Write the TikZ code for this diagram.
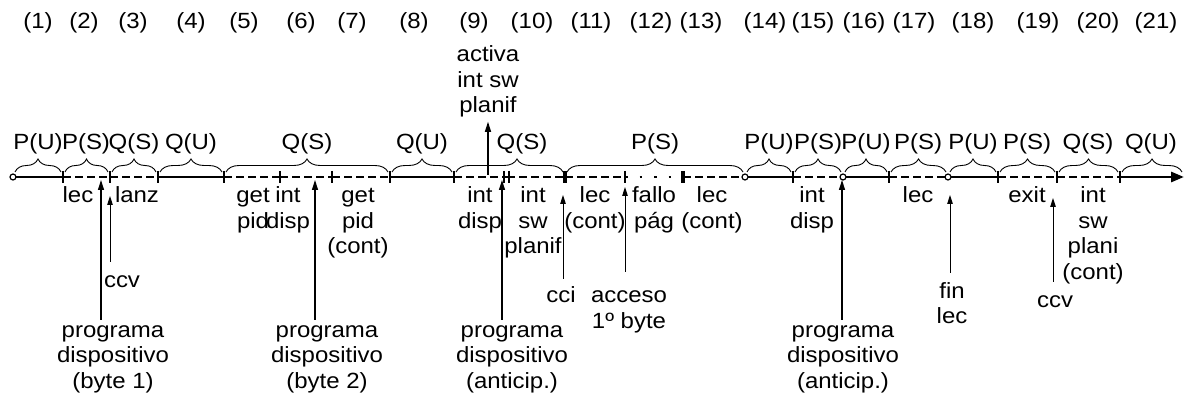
\documentclass[tikz,border=0pt]{standalone}
\usepackage{fontspec}
\setmainfont{Liberation Sans}[FakeStretch=1.09]
\usetikzlibrary{arrows.meta,decorations.pathreplacing,calc}
\newcommand{\lblfont}{\fontsize{22}{25.5}\selectfont}
\begin{document}
\begin{tikzpicture}[x=1pt,y=-1pt,
  seg/.style={line width=2.8pt},
  dsh/.style={line width=2.8pt, dash pattern=on 8pt off 4pt},
  dts/.style={line width=2.8pt, dash pattern=on 2.5pt off 12pt},
  tk/.style={line width=2pt},
  tkb/.style={line width=3.2pt},
  brc/.style={decorate, decoration={brace, amplitude=13pt}, line width=0.9pt},
  lab/.style={font=\lblfont, inner sep=0pt, align=center, anchor=base},
  upar/.style={-{Triangle[length=10pt,width=6pt]}, line width=1.3pt},
  thinar/.style={-{Triangle[length=9pt,width=5.5pt]}, line width=1pt},
  opencirc/.style={circle, draw, fill=white, line width=1.2pt, inner sep=0pt, minimum size=6pt},
]
\useasboundingbox (0,0) rectangle (1186,403);

% boundaries on the time line
\foreach \x [count=\i from 0] in {13,63,110,158,224,280,332,390,454,507,565,625,683,745,793,843,889,948,998,1057,1120,1184}
  \coordinate (b\i) at (\x,177);

% segments
\foreach \i/\j/\s in {0/1/seg,1/2/dsh,2/3/dsh,3/4/seg,4/5/dsh,5/6/dsh,6/7/dsh,7/8/seg,8/9/dsh,9/10/dsh,10/11/dsh,11/12/dts,12/13/dsh,13/14/seg,14/15/dsh,15/16/seg,16/17/dsh,17/18/seg,18/19/dsh,19/20/dsh}
  \draw[\s] (b\i) -- (b\j);
\draw[seg, -{Triangle[length=13pt,width=10pt]}] (b20) -- (b21);

% ticks
\foreach \i in {1,2,3,4,5,6,7,8,11,14,16,18,19,20}
  \draw[tk] ($(b\i)+(0,-6)$) -- ($(b\i)+(0,6)$);
\draw[tk] ($(b9)+(-3,-6)$) -- ($(b9)+(-3,6)$);
\draw[tk] ($(b9)+(2,-6)$) -- ($(b9)+(2,6)$);
\draw[tkb] ($(b10)+(0,-6)$) -- ($(b10)+(0,6)$);
\draw[tkb] ($(b12)+(0,-6)$) -- ($(b12)+(0,6)$);

% circles
\node[opencirc] (c0) at (b0) {};
\node[opencirc] (c13) at (b13) {};
\node[opencirc] (c15) at (b15) {};
\node[opencirc] (c17) at (b17) {};

% braces
\foreach \i/\j in {0/1,1/2,2/3,3/4,4/7,7/8,13/14,14/15,15/16,16/17,17/18,18/19,19/20,20/21}
  \draw[brc] ($(b\i)+(2,-5)$) -- ($(b\j)+(-2,-5)$);
\draw[brc, decoration={aspect=0.57}] ($(b8)+(2,-5)$) -- ($(b10)+(-2,-5)$);
\draw[brc] ($(b10)+(2,-5)$) -- ($(b13)+(-2,-5)$);

% mode labels
\foreach \x/\t [count=\i] in {38/P(U),86/P(S),134/Q(S),191/Q(U),307/Q(S),422/Q(U),522/Q(S),655/P(S),769/P(U),818/P(S),866/P(U),918/P(S),973/P(U),1027/P(S),1088/Q(S),1151/Q(U)}
  \node[lab] (m\i) at (\x,150) {\t};

% interval numbers
\foreach \x [count=\i] in {38,84,133,191,244,301,352,414,474,532,591,651,701,765,813,864,914,973,1038,1098,1156}
  \node[lab] (n\i) at (\x,29) {(\i)};

% labels below the line (anchor = baseline of the last line)
\node[lab] (d2) at (78,203) {lec};
\node[lab] (d3) at (137,203) {lanz};
\node[lab] (d5) at (253,228.5) {get\\pid};
\node[lab] (d6) at (288,228.5) {int\\disp};
\node[lab] (d7) at (358,254) {get\\pid\\(cont)};
\node[lab] (d9) at (480,228.5) {int\\disp};
\node[lab] (d10) at (533,254) {int\\sw\\planif};
\node[lab] (d11) at (595,228.5) {lec\\(cont)};
\node[lab] (d12) at (654,228.5) {fallo\\pág};
\node[lab] (d13) at (712,228.5) {lec\\(cont)};
\node[lab] (d15) at (812,228.5) {int\\disp};
\node[lab] (d17) at (918,203) {lec};
\node[lab] (d19) at (1027,203) {exit};
\node[lab] (d20) at (1093,279.5) {int\\sw\\plani\\(cont)};

% event labels
\node[lab] (pb1) at (113,388) {programa\\dispositivo\\(byte 1)};
\node[lab] (pb2) at (327,388) {programa\\dispositivo\\(byte 2)};
\node[lab] (pa1) at (512,388) {programa\\dispositivo\\(anticip.)};
\node[lab] (pa2) at (843,388) {programa\\dispositivo\\(anticip.)};
\node[lab] (ccv1) at (122,288) {ccv};
\node[lab] (cci) at (561,303) {cci};
\node[lab] (acc) at (629,328.5) {acceso\\1º byte};
\node[lab] (fin) at (952,323.5) {fin\\lec};
\node[lab] (ccv2) at (1055,308) {ccv};
\node[lab] (act) at (488,113) {activa\\int sw\\planif};

% arrow tips on the line
\coordinate (tb1) at (101,180);
\coordinate (tcv1) at (110,196);
\coordinate (tb2) at (315,180);
\coordinate (ta1) at (502,180);
\coordinate (tci) at (563,195);
\coordinate (tac) at (625,187);
\coordinate (ta2) at (842,180);
\coordinate (tfin) at (950,195);
\coordinate (tcv2) at (1053,198);
\coordinate (tact) at (488,175);

% event arrows
\draw[upar] ($(pb1.north -| tb1)+(0,-5)$) -- (tb1);
\draw[upar] ($(pb2.north -| tb2)+(0,-5)$) -- (tb2);
\draw[upar] ($(pa1.north -| ta1)+(0,-5)$) -- (ta1);
\draw[upar] ($(pa2.north -| ta2)+(0,-5)$) -- (ta2);
\draw[thinar] ($(ccv1.north -| tcv1)+(0,-14)$) -- (tcv1);
\draw[thinar] ($(cci.north -| tci)+(0,-8)$) -- (tci);
\draw[thinar] ($(acc.north -| tac)+(0,-19)$) -- (tac);
\draw[thinar] ($(fin.north -| tfin)+(0,-9)$) -- (tfin);
\draw[thinar] ($(ccv2.north -| tcv2)+(0,-14)$) -- (tcv2);
\draw[upar] (tact) -- ($(act.south)+(0,4)$);
\end{tikzpicture}
\end{document}
